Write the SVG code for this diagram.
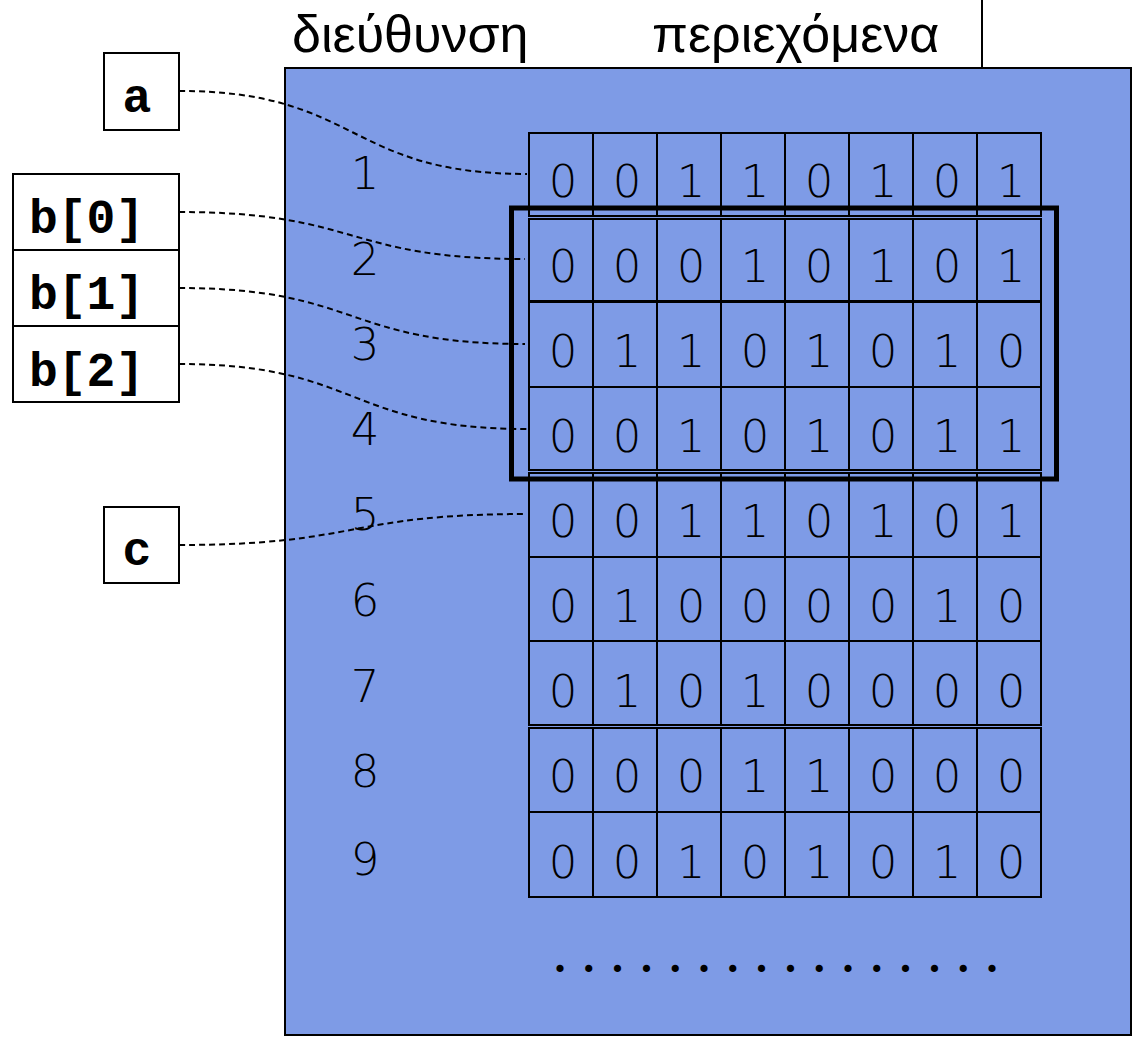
<svg xmlns="http://www.w3.org/2000/svg" width="1134" height="1037" viewBox="0 0 1134 1037">
<style>
.hdr{font-family:"Liberation Sans",Arial,sans-serif;font-size:52px;fill:#000}
.var{font-family:"Liberation Mono","Courier New",monospace;font-weight:bold;font-size:48px;fill:#000}
.dig{font-family:"DejaVu Sans","Liberation Sans",sans-serif;font-weight:200;font-size:45px;fill:#000;text-anchor:middle}
.box{fill:#fff;stroke:#000;stroke-width:2}
.row{fill:none;stroke:#000;stroke-width:2}
.conn{fill:none;stroke:#000;stroke-width:2;stroke-dasharray:6 4}
.dots{font-family:"Liberation Serif","Times New Roman",serif;font-weight:bold;font-size:44px;letter-spacing:17.8px;fill:#000}
</style>
<rect width="1134" height="1037" fill="#fff"/>
<g id="header">
<text class="hdr" x="292" y="52">διεύθυνση</text>
<text class="hdr" x="652" y="52">περιεχόμενα</text>
<line x1="982" y1="0" x2="982" y2="68" stroke="#000" stroke-width="2"/>
</g>
<g id="memory">
<rect x="285" y="68" width="846" height="967" fill="#7e9be6" stroke="#000" stroke-width="2"/>
</g>
<g id="addresses">
<text class="dig" x="365" y="189">1</text>
<text class="dig" x="365" y="275">2</text>
<text class="dig" x="365" y="360">3</text>
<text class="dig" x="365" y="445">4</text>
<text class="dig" x="365" y="530">5</text>
<text class="dig" x="365" y="616">6</text>
<text class="dig" x="365" y="702">7</text>
<text class="dig" x="365" y="787">8</text>
<text class="dig" x="365" y="875">9</text>
</g>
<g id="row1">
<rect class="row" x="529" y="133" width="512" height="83"/>
<path class="row" d="M593 133V216M657 133V216M721 133V216M785 133V216M849 133V216M913 133V216M977 133V216"/>
<text class="dig" y="197"><tspan x="563">0</tspan><tspan x="627">0</tspan><tspan x="691">1</tspan><tspan x="755">1</tspan><tspan x="819">0</tspan><tspan x="883">1</tspan><tspan x="947">0</tspan><tspan x="1011">1</tspan></text>
</g>
<g id="row2">
<rect class="row" x="529" y="219" width="512" height="82"/>
<path class="row" d="M593 219V301M657 219V301M721 219V301M785 219V301M849 219V301M913 219V301M977 219V301"/>
<text class="dig" y="282"><tspan x="563">0</tspan><tspan x="627">0</tspan><tspan x="691">0</tspan><tspan x="755">1</tspan><tspan x="819">0</tspan><tspan x="883">1</tspan><tspan x="947">0</tspan><tspan x="1011">1</tspan></text>
</g>
<g id="row3">
<rect class="row" x="529" y="302" width="512" height="85"/>
<path class="row" d="M593 302V387M657 302V387M721 302V387M785 302V387M849 302V387M913 302V387M977 302V387"/>
<text class="dig" y="367"><tspan x="563">0</tspan><tspan x="627">1</tspan><tspan x="691">1</tspan><tspan x="755">0</tspan><tspan x="819">1</tspan><tspan x="883">0</tspan><tspan x="947">1</tspan><tspan x="1011">0</tspan></text>
</g>
<g id="row4">
<rect class="row" x="529" y="387" width="512" height="83"/>
<path class="row" d="M593 387V470M657 387V470M721 387V470M785 387V470M849 387V470M913 387V470M977 387V470"/>
<text class="dig" y="452"><tspan x="563">0</tspan><tspan x="627">0</tspan><tspan x="691">1</tspan><tspan x="755">0</tspan><tspan x="819">1</tspan><tspan x="883">0</tspan><tspan x="947">1</tspan><tspan x="1011">1</tspan></text>
</g>
<g id="row5">
<rect class="row" x="529" y="473" width="512" height="84"/>
<path class="row" d="M593 473V557M657 473V557M721 473V557M785 473V557M849 473V557M913 473V557M977 473V557"/>
<text class="dig" y="537"><tspan x="563">0</tspan><tspan x="627">0</tspan><tspan x="691">1</tspan><tspan x="755">1</tspan><tspan x="819">0</tspan><tspan x="883">1</tspan><tspan x="947">0</tspan><tspan x="1011">1</tspan></text>
</g>
<g id="row6">
<rect class="row" x="529" y="557" width="512" height="84"/>
<path class="row" d="M593 557V641M657 557V641M721 557V641M785 557V641M849 557V641M913 557V641M977 557V641"/>
<text class="dig" y="622"><tspan x="563">0</tspan><tspan x="627">1</tspan><tspan x="691">0</tspan><tspan x="755">0</tspan><tspan x="819">0</tspan><tspan x="883">0</tspan><tspan x="947">1</tspan><tspan x="1011">0</tspan></text>
</g>
<g id="row7">
<rect class="row" x="529" y="641" width="512" height="84"/>
<path class="row" d="M593 641V725M657 641V725M721 641V725M785 641V725M849 641V725M913 641V725M977 641V725"/>
<text class="dig" y="707"><tspan x="563">0</tspan><tspan x="627">1</tspan><tspan x="691">0</tspan><tspan x="755">1</tspan><tspan x="819">0</tspan><tspan x="883">0</tspan><tspan x="947">0</tspan><tspan x="1011">0</tspan></text>
</g>
<g id="row8">
<rect class="row" x="529" y="728" width="512" height="84"/>
<path class="row" d="M593 728V812M657 728V812M721 728V812M785 728V812M849 728V812M913 728V812M977 728V812"/>
<text class="dig" y="792"><tspan x="563">0</tspan><tspan x="627">0</tspan><tspan x="691">0</tspan><tspan x="755">1</tspan><tspan x="819">1</tspan><tspan x="883">0</tspan><tspan x="947">0</tspan><tspan x="1011">0</tspan></text>
</g>
<g id="row9">
<rect class="row" x="529" y="812" width="512" height="85"/>
<path class="row" d="M593 812V897M657 812V897M721 812V897M785 812V897M849 812V897M913 812V897M977 812V897"/>
<text class="dig" y="878"><tspan x="563">0</tspan><tspan x="627">0</tspan><tspan x="691">1</tspan><tspan x="755">0</tspan><tspan x="819">1</tspan><tspan x="883">0</tspan><tspan x="947">1</tspan><tspan x="1011">0</tspan></text>
</g>
<g id="highlight">
<rect x="511.5" y="208" width="545" height="271" fill="none" stroke="#000" stroke-width="5"/>
</g>
<g id="ellipsis">
<text class="dots" x="554.5" y="971.5">................</text>
</g>
<g id="var-a">
<rect class="box" x="104" y="53" width="75" height="77"/>
<text class="var" x="137" y="112" text-anchor="middle">a</text>
</g>
<g id="var-b">
<rect class="box" x="13" y="174" width="166" height="76"/>
<rect class="box" x="13" y="250" width="166" height="76"/>
<rect class="box" x="13" y="326" width="166" height="76"/>
<text class="var" x="29" y="233">b[0]</text>
<text class="var" x="29" y="309">b[1]</text>
<text class="var" x="29" y="386">b[2]</text>
</g>
<g id="var-c">
<rect class="box" x="104" y="507" width="75" height="76"/>
<text class="var" x="137" y="565" text-anchor="middle">c</text>
</g>
<g id="connectors">
<path class="conn" d="M179 91C360 91 346 174 527 174"/>
<path class="conn" d="M179 212C360 212 344 259 525 259"/>
<path class="conn" d="M179 288C360 288 344 344 525 344"/>
<path class="conn" d="M179 364C360 364 346 429 527 429"/>
<path class="conn" d="M179 545C360 545 346 514 527 514"/>
</g>
</svg>
